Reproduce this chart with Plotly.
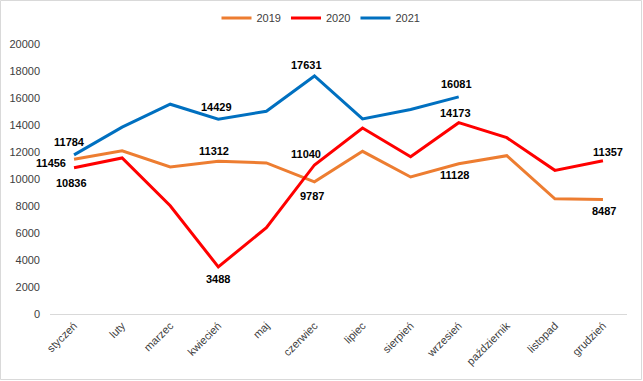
import plotly.graph_objects as go

months = ["styczeń", "luty", "marzec", "kwiecień", "maj", "czerwiec", "lipiec",
          "sierpień", "wrzesień", "październik", "listopad", "grudzień"]
v2019 = [11456, 12090, 10890, 11312, 11190, 9787, 12050, 10150, 11128, 11730, 8530, 8487]
v2020 = [10836, 11560, 8020, 3488, 6400, 11040, 13780, 11650, 14173, 13060, 10640, 11357]
v2021 = [11784, 13840, 15540, 14429, 15020, 17631, 14450, 15150, 16081]

# labelled points: (month index, xshift, yshift)
labels_2019 = [(0, -23, -4), (3, -4, 10), (5, -2, -14), (8, -4, -11), (11, 1, -12)]
labels_2020 = [(0, -3, -15), (3, 0, -12), (5, -8, 11), (8, -3, 10), (11, 5, 9)]
labels_2021 = [(0, -5, 13), (3, -2, 12), (5, -8, 11), (8, -2, 13)]

W, H = 643, 381
ml, mr, mt, mb = 50, 16, 44, 67

fig = go.Figure()
series = [("2019", v2019, "#ED7D31", labels_2019),
          ("2020", v2020, "#FF0000", labels_2020),
          ("2021", v2021, "#0070C0", labels_2021)]
for name, vals, col, labs in series:
    fig.add_trace(go.Scatter(x=months[:len(vals)], y=vals, name=name, mode="lines",
                             line=dict(color=col, width=3)))
    for i, dx, dy in labs:
        fig.add_annotation(x=months[i], y=vals[i], text=f"<b>{vals[i]}</b>",
                           showarrow=False, xshift=dx, yshift=dy,
                           font=dict(family="Liberation Sans", size=11, color="#000000"))

pw = W - ml - mr
ph = H - mt - mb
fig.add_shape(type="rect", xref="paper", yref="paper",
              x0=-(ml - 0.5) / pw, x1=1 + (mr - 1.5) / pw,
              y0=-(mb - 1.5) / ph, y1=1 + (mt - 0.5) / ph,
              line=dict(color="#D9D9D9", width=1), fillcolor="rgba(0,0,0,0)")

fig.update_layout(
    width=W, height=H,
    margin=dict(l=ml, r=mr, t=mt, b=mb, autoexpand=False),
    paper_bgcolor="white", plot_bgcolor="white",
    font=dict(family="Liberation Sans", size=11, color="#404040"),
    legend=dict(orientation="h", x=(321 - ml) / pw, xanchor="center",
                y=1 + (mt - 18) / ph, yanchor="middle",
                font=dict(size=11, color="#404040"),
                itemwidth=30, traceorder="normal"),
    xaxis=dict(range=[-0.5, 11.5], tickangle=-45, showgrid=False, showline=True,
               linecolor="#D9D9D9", linewidth=1, ticks="",
               tickfont=dict(size=11, color="#404040")),
    yaxis=dict(range=[0, 20000], dtick=2000, tickformat="d", showgrid=False,
               zeroline=False, showline=False, ticks="", ticklabelstandoff=9,
               tickfont=dict(size=11, color="#404040")),
    showlegend=True,
)
fig.write_html("out.html", config={"displayModeBar": False},
               post_script="document.body.style.margin='0';")
